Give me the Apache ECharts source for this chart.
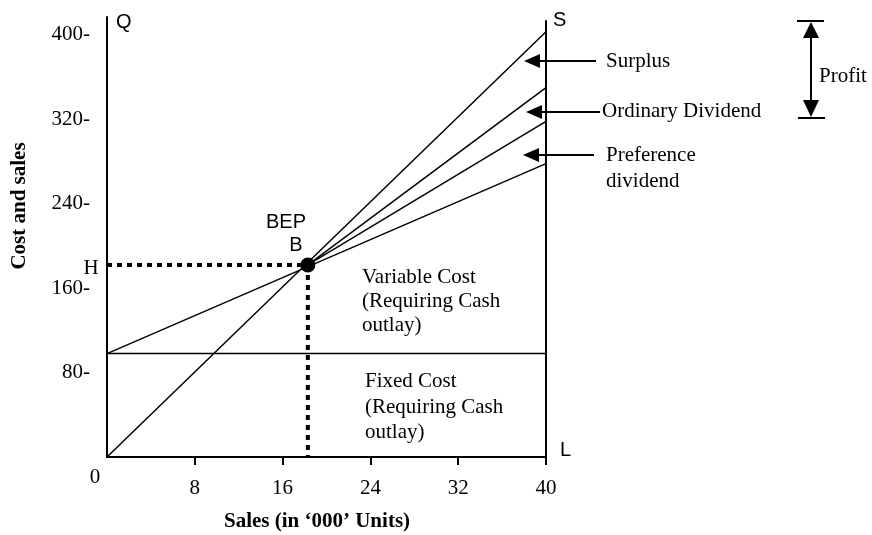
<!DOCTYPE html>
<html>
<head>
<meta charset="utf-8">
<script src="https://cdn.jsdelivr.net/npm/echarts@6/dist/echarts.min.js"></script>
<style>
  html, body { margin: 0; padding: 0; background: #fff; }
  #main { width: 872px; height: 535px; }
</style>
</head>
<body>
<div id="main"></div>
<script>
// sales in '000 units, cost and sales in value
var units = [0, 40];
var salesLine = [0, 403];
var fixedCost = [98, 98];
var totalCost = [98, 278];
var bep = [18.3, 182];
var prefDividendEnd = 318;
var ordDividendEnd = 350;
var topS = 414;
var xTicks = [8, 16, 24, 32, 40];
var yTicks = [80, 160, 240, 320, 400];

var chart = echarts.init(document.getElementById('main'), null, { renderer: 'canvas' });

var serif = 'Liberation Serif';
var sans = 'Liberation Sans';

function seg(p1, p2, w, dash) {
  return {
    type: 'line',
    data: [p1, p2],
    symbol: 'none',
    silent: true,
    lineStyle: { color: '#000', width: w, type: dash || 'solid' }
  };
}

function txt(s, x, y, font, align) {
  return {
    type: 'text', x: x, y: y, silent: true,
    style: { text: s, font: font, fill: '#000', align: align || 'left', verticalAlign: 'middle' }
  };
}

function arrowLeft(tip, end, y) {
  return [
    { type: 'line', silent: true, shape: { x1: tip + 14, y1: y, x2: end, y2: y }, style: { stroke: '#000', lineWidth: 2 } },
    { type: 'polygon', silent: true, shape: { points: [[tip, y], [tip + 16, y - 7], [tip + 16, y + 7]] }, style: { fill: '#000' } }
  ];
}

var f = '21px "' + serif + '"';
var fb = 'bold 21px "' + serif + '"';
var fs = '20px "' + sans + '"';

var graphics = [
  txt('0', 95, 477, f, 'center'),
  txt('H', 91, 268, f, 'center'),
  txt('Q', 116, 22, fs),
  txt('S', 553, 20, fs),
  txt('L', 560, 450, fs),
  txt('BEP', 286, 222, fs, 'center'),
  txt('B', 296, 245, fs, 'center'),
  txt('Surplus', 606, 61, f),
  txt('Ordinary Dividend', 602, 111, f),
  txt('Preference', 606, 155, f),
  txt('dividend', 606, 181, f),
  txt('Profit', 819, 76, f),
  txt('Variable Cost', 362, 277, f),
  txt('(Requiring Cash', 362, 301, f),
  txt('outlay)', 362, 325, f),
  txt('Fixed Cost', 365, 381, f),
  txt('(Requiring Cash', 365, 407, f),
  txt('outlay)', 365, 432, f),
  txt('Sales (in \u2018000\u2019 Units)', 317, 522, fb, 'center'),
  {
    type: 'text', x: 20, y: 206, rotation: Math.PI / 2, silent: true,
    style: { text: 'Cost and sales', font: fb, fill: '#000', align: 'center', verticalAlign: 'middle' }
  },
  // profit bracket
  { type: 'line', silent: true, shape: { x1: 797, y1: 21, x2: 824, y2: 21 }, style: { stroke: '#000', lineWidth: 2 } },
  { type: 'line', silent: true, shape: { x1: 798, y1: 118, x2: 825, y2: 118 }, style: { stroke: '#000', lineWidth: 2 } },
  { type: 'line', silent: true, shape: { x1: 811, y1: 36, x2: 811, y2: 102 }, style: { stroke: '#000', lineWidth: 2 } },
  { type: 'polygon', silent: true, shape: { points: [[811, 22], [803, 38], [819, 38]] }, style: { fill: '#000' } },
  { type: 'polygon', silent: true, shape: { points: [[811, 117], [803, 100], [819, 100]] }, style: { fill: '#000' } }
].concat(arrowLeft(524, 596, 61))
 .concat(arrowLeft(526, 600, 112))
 .concat(arrowLeft(523, 594, 155));

var option = {
  animation: false,
  backgroundColor: '#fff',
  grid: { left: 107, right: 326, top: 17, bottom: 78, containLabel: false, outerBoundsMode: 'none' },
  xAxis: {
    type: 'value',
    min: 0,
    max: 40,
    axisLine: { show: true, lineStyle: { color: '#000', width: 2 } },
    axisTick: { show: true, length: 8, lineStyle: { color: '#000', width: 2 }, customValues: xTicks },
    axisLabel: { customValues: xTicks, margin: 21, color: '#000', fontFamily: serif, fontSize: 21 },
    splitLine: { show: false }
  },
  yAxis: {
    type: 'value',
    min: 0,
    max: 417,
    axisLine: { show: true, lineStyle: { color: '#000', width: 2 } },
    axisTick: { show: false },
    axisLabel: {
      customValues: yTicks, margin: 17, color: '#000', fontFamily: serif, fontSize: 21,
      formatter: function (v) { return v + '-'; }
    },
    splitLine: { show: false }
  },
  series: [
    seg([units[0], fixedCost[0]], [units[1], fixedCost[1]], 1.5),
    seg([units[0], totalCost[0]], [units[1], totalCost[1]], 1.5),
    seg([units[0], salesLine[0]], [units[1], salesLine[1]], 1.5),
    seg(bep, [units[1], prefDividendEnd], 1.5),
    seg(bep, [units[1], ordDividendEnd], 1.5),
    seg([units[1], 0], [units[1], topS], 2),
    seg([0, bep[1]], bep, 4, [5, 5]),
    seg(bep, [bep[0], 0], 4, [5, 5]),
    {
      type: 'scatter',
      data: [bep],
      symbol: 'circle',
      symbolSize: 15,
      silent: true,
      z: 5,
      itemStyle: { color: '#000', opacity: 1 }
    }
  ],
  graphic: graphics
};

chart.setOption(option);
</script>
</body>
</html>
